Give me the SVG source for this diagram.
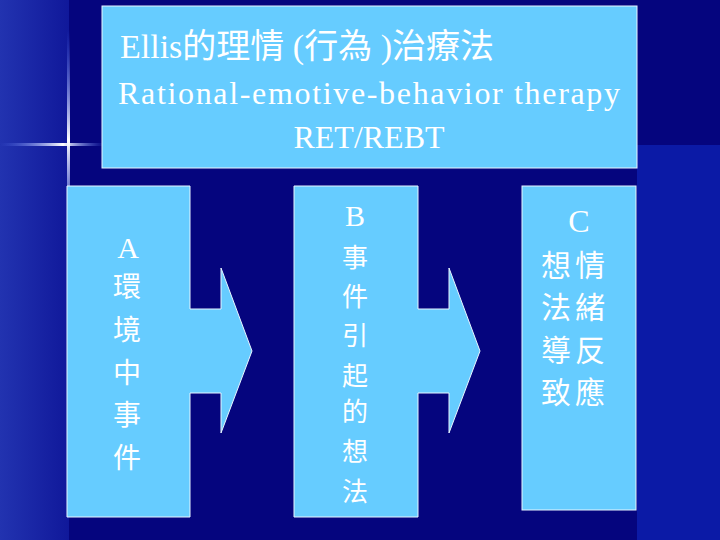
<svg xmlns="http://www.w3.org/2000/svg" width="720" height="540" viewBox="0 0 720 540">
<defs>
<linearGradient id="lg" x1="0" x2="1" y1="0" y2="0"><stop offset="0" stop-color="#2233b0"/><stop offset="1" stop-color="#10189a"/></linearGradient>
<linearGradient id="hl" x1="0" x2="1"><stop offset="0" stop-color="#5a7cff" stop-opacity="0"/><stop offset="0.6" stop-color="#ffffff"/><stop offset="1" stop-color="#5a7cff" stop-opacity="0"/></linearGradient>
<linearGradient id="vl" x1="0" x2="0" y1="0" y2="1"><stop offset="0" stop-color="#5a7cff" stop-opacity="0"/><stop offset="0.5" stop-color="#ffffff"/><stop offset="1" stop-color="#5a7cff" stop-opacity="0"/></linearGradient>
</defs>
<style>
.box{fill:#66ccff;stroke:#e8f6ff;stroke-width:1}
.lat{font-family:"Liberation Serif","Noto Sans CJK TC",serif;fill:#fff}
.cjk{font-family:"Noto Sans CJK TC",sans-serif;fill:#fff;text-anchor:middle}
</style>
<rect width="720" height="540" fill="#05057e"/>
<rect x="0" y="0" width="69" height="540" fill="url(#lg)"/>
<rect x="637" y="145" width="83" height="395" fill="#0b1aa6"/>
<rect x="0" y="143" width="105" height="3" fill="url(#hl)"/>
<rect x="67" y="30" width="3" height="220" fill="url(#vl)"/>
<g id="title">
<rect class="box" x="102" y="6" width="535" height="162"/>
<text class="lat" x="120" y="58" font-size="34">Ellis<tspan font-family="Noto Sans CJK TC,sans-serif">的理情</tspan> (<tspan font-family="Noto Sans CJK TC,sans-serif">行為</tspan> )<tspan font-family="Noto Sans CJK TC,sans-serif">治療法</tspan></text>
<text class="lat" x="369" y="104" font-size="32" text-anchor="middle" textLength="502">Rational-emotive-behavior therapy</text>
<text class="lat" x="369" y="148" font-size="32" text-anchor="middle">RET/REBT</text>
</g>
<g id="nodeA">
<path class="box" d="M67,186H190V309H221V268L252,351L221,433V393H190V517H67Z"/>
<text class="lat" x="128" y="258" font-size="30" text-anchor="middle">A</text>
<text class="cjk" font-size="28"><tspan x="127" y="297">環</tspan><tspan x="127" y="340">境</tspan><tspan x="127" y="383">中</tspan><tspan x="127" y="425">事</tspan><tspan x="127" y="468">件</tspan></text>
</g>
<g id="nodeB">
<path class="box" d="M294,186H418V309H449V268L480,351L449,433V393H418V517H294Z"/>
<text class="lat" x="355" y="226" font-size="30" text-anchor="middle">B</text>
<text class="cjk" font-size="26"><tspan x="355" y="267">事</tspan><tspan x="355" y="306">件</tspan><tspan x="355" y="345">引</tspan><tspan x="355" y="385">起</tspan><tspan x="355" y="421">的</tspan><tspan x="355" y="461">想</tspan><tspan x="355" y="501">法</tspan></text>
</g>
<g id="nodeC">
<rect class="box" x="522" y="186" width="114" height="324"/>
<text class="lat" x="579" y="232" font-size="32" text-anchor="middle">C</text>
<text class="cjk" font-size="30"><tspan x="556" y="276">想</tspan><tspan x="590" y="276">情</tspan><tspan x="556" y="318">法</tspan><tspan x="590" y="318">緒</tspan><tspan x="556" y="361">導</tspan><tspan x="590" y="361">反</tspan><tspan x="556" y="403">致</tspan><tspan x="590" y="403">應</tspan></text>
</g>
<g id="connectors"/>
</svg>
